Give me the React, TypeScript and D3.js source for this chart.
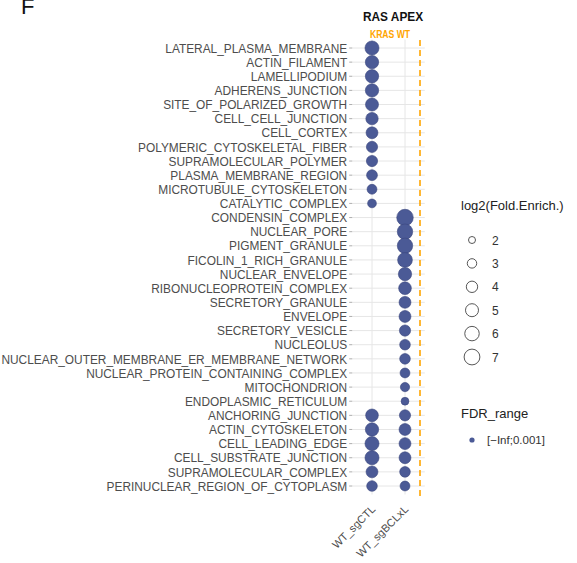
import React from "react";
import * as d3 from "d3";

const categories: string[] = [
  "LATERAL_PLASMA_MEMBRANE",
  "ACTIN_FILAMENT",
  "LAMELLIPODIUM",
  "ADHERENS_JUNCTION",
  "SITE_OF_POLARIZED_GROWTH",
  "CELL_CELL_JUNCTION",
  "CELL_CORTEX",
  "POLYMERIC_CYTOSKELETAL_FIBER",
  "SUPRAMOLECULAR_POLYMER",
  "PLASMA_MEMBRANE_REGION",
  "MICROTUBULE_CYTOSKELETON",
  "CATALYTIC_COMPLEX",
  "CONDENSIN_COMPLEX",
  "NUCLEAR_PORE",
  "PIGMENT_GRANULE",
  "FICOLIN_1_RICH_GRANULE",
  "NUCLEAR_ENVELOPE",
  "RIBONUCLEOPROTEIN_COMPLEX",
  "SECRETORY_GRANULE",
  "ENVELOPE",
  "SECRETORY_VESICLE",
  "NUCLEOLUS",
  "NUCLEAR_OUTER_MEMBRANE_ER_MEMBRANE_NETWORK",
  "NUCLEAR_PROTEIN_CONTAINING_COMPLEX",
  "MITOCHONDRION",
  "ENDOPLASMIC_RETICULUM",
  "ANCHORING_JUNCTION",
  "ACTIN_CYTOSKELETON",
  "CELL_LEADING_EDGE",
  "CELL_SUBSTRATE_JUNCTION",
  "SUPRAMOLECULAR_COMPLEX",
  "PERINUCLEAR_REGION_OF_CYTOPLASM",
];

const samples: string[] = ["WT_sgCTL", "WT_sgBCLxL"];

// log2(Fold.Enrich.) per category, null = not enriched
const sgCTL: (number | null)[] = [
  5.7, 5.2, 5.2, 5.2, 5.0, 4.6, 4.3, 3.9, 3.9, 3.7, 3.2, 2.7,
  null, null, null, null, null, null, null, null, null, null, null, null, null, null,
  4.8, 5.2, 5.7, 5.7, 4.3, 3.6,
];
const sgBCLxL: (number | null)[] = [
  null, null, null, null, null, null, null, null, null, null, null, null,
  7.6, 6.7, 6.7, 6.2, 5.2, 4.8, 4.3, 4.3, 3.9, 3.6, 3.6, 3.2, 2.9, 2.3,
  3.9, 4.3, 4.3, 4.3, 3.6, 3.2,
];

const sizeBreaks: number[] = [2, 3, 4, 5, 6, 7];
const fdrLevels: string[] = ["[\u2212Inf;0.001]"];

const W = 577;
const H = 563;
const FONT = "'Liberation Sans', Arial, Helvetica, sans-serif";
const DOT = "#4B5A96";
const DOT_STROKE = "#3B477E";
const ORANGE = "#FFA500";

export default function App() {
  const x = d3.scalePoint<string>().domain(samples).range([372, 405]);
  const y = d3.scalePoint<string>().domain(categories).range([48, 486]);
  const step = y.step();
  const xStep = x.step();
  const panelLeft = 372 - 0.6 * xStep;
  const panelRight = 405 + 0.6 * xStep;
  const panelTop = 48 - 0.6 * step;
  const panelBottom = 486 + 0.6 * step;
  const r = d3.scaleRadial().domain([2, 7]).range([3.5, 7.9]);

  const series = [sgCTL, sgBCLxL];

  const legendY = d3.scalePoint<string>()
    .domain(sizeBreaks.map(String))
    .range([240, 357]);

  return (
    <svg
      width={W}
      height={H}
      style={{ position: "absolute", left: 0, top: 0, background: "#fff" }}
      fontFamily={FONT}
    >
      <rect x={0} y={0} width={W} height={H} fill="#fff" />
      <text x={21} y={14} fontSize={22} fill="#111">F</text>

      <text x={0} y={0} fontSize={12.5} fontWeight="bold" textAnchor="middle" fill="#111"
        transform="translate(393,21) scale(0.95,1)">
        RAS APEX
      </text>
      <text
        x={0}
        y={0}
        fontSize={10.5}
        fontWeight="bold"
        textAnchor="middle"
        fill={ORANGE}
        transform="translate(390,38) scale(0.82,1)"
      >
        KRAS WT
      </text>

      {/* grid */}
      <g stroke="#E6E6E6" strokeWidth={1}>
        {categories.map((c) => (
          <line key={c} x1={panelLeft} x2={panelRight} y1={y(c)} y2={y(c)} />
        ))}
        {samples.map((s) => (
          <line key={s} x1={x(s)} x2={x(s)} y1={panelTop} y2={panelBottom} />
        ))}
      </g>

      {/* y ticks */}
      <g stroke="#999" strokeWidth={0.8}>
        {categories.map((c) => (
          <line key={c} x1={panelLeft - 3} x2={panelLeft} y1={y(c)} y2={y(c)} />
        ))}
      </g>

      {/* y labels */}
      <g fontSize={13} fill="#4D4D4D">
        {categories.map((c) => (
          <text
            key={c}
            x={0}
            y={0}
            textAnchor="end"
            dominantBaseline="central"
            transform={`translate(${panelLeft - 5},${(y(c) as number) + 0.5}) scale(0.915,1)`}
          >
            {c}
          </text>
        ))}
      </g>

      {/* dashed orange line */}
      <line x1={420} x2={420} y1={40} y2={496} stroke={ORANGE} strokeWidth={1.6} strokeDasharray="6,4" />

      {/* dots */}
      <g>
        {series.map((vals, si) =>
          vals.map((v, i) =>
            v == null ? null : (
              <circle
                key={`${si}-${i}`}
                cx={x(samples[si])}
                cy={y(categories[i])}
                r={r(v)}
                fill={DOT}
                stroke={DOT_STROKE}
                strokeWidth={0.6}
              />
            )
          )
        )}
      </g>

      {/* x labels */}
      <g fontSize={11} fill="#4D4D4D">
        {samples.map((s) => (
          <text
            key={s}
            x={0}
            y={0}
            textAnchor="end"
            transform={`translate(${(x(s) as number) + 4},${510}) rotate(-45)`}
          >
            {s}
          </text>
        ))}
      </g>

      {/* size legend */}
      <text x={461} y={210} fontSize={13} fill="#222">log2(Fold.Enrich.)</text>
      {sizeBreaks.map((b) => (
        <g key={b}>
          <circle
            cx={472}
            cy={legendY(String(b))}
            r={r(b)}
            fill="#fff"
            stroke="#444"
            strokeWidth={0.9}
          />
          <text x={492} y={(legendY(String(b)) as number) + 4.5} fontSize={12} fill="#333">
            {b}
          </text>
        </g>
      ))}

      {/* FDR legend */}
      <text x={461} y={418} fontSize={13} fill="#222">FDR_range</text>
      {fdrLevels.map((l, i) => (
        <g key={l}>
          <circle cx={472} cy={440 + i * 20} r={2.6} fill={DOT} />
          <text x={487} y={444 + i * 20} fontSize={11.5} fill="#333">{l}</text>
        </g>
      ))}
    </svg>
  );
}
